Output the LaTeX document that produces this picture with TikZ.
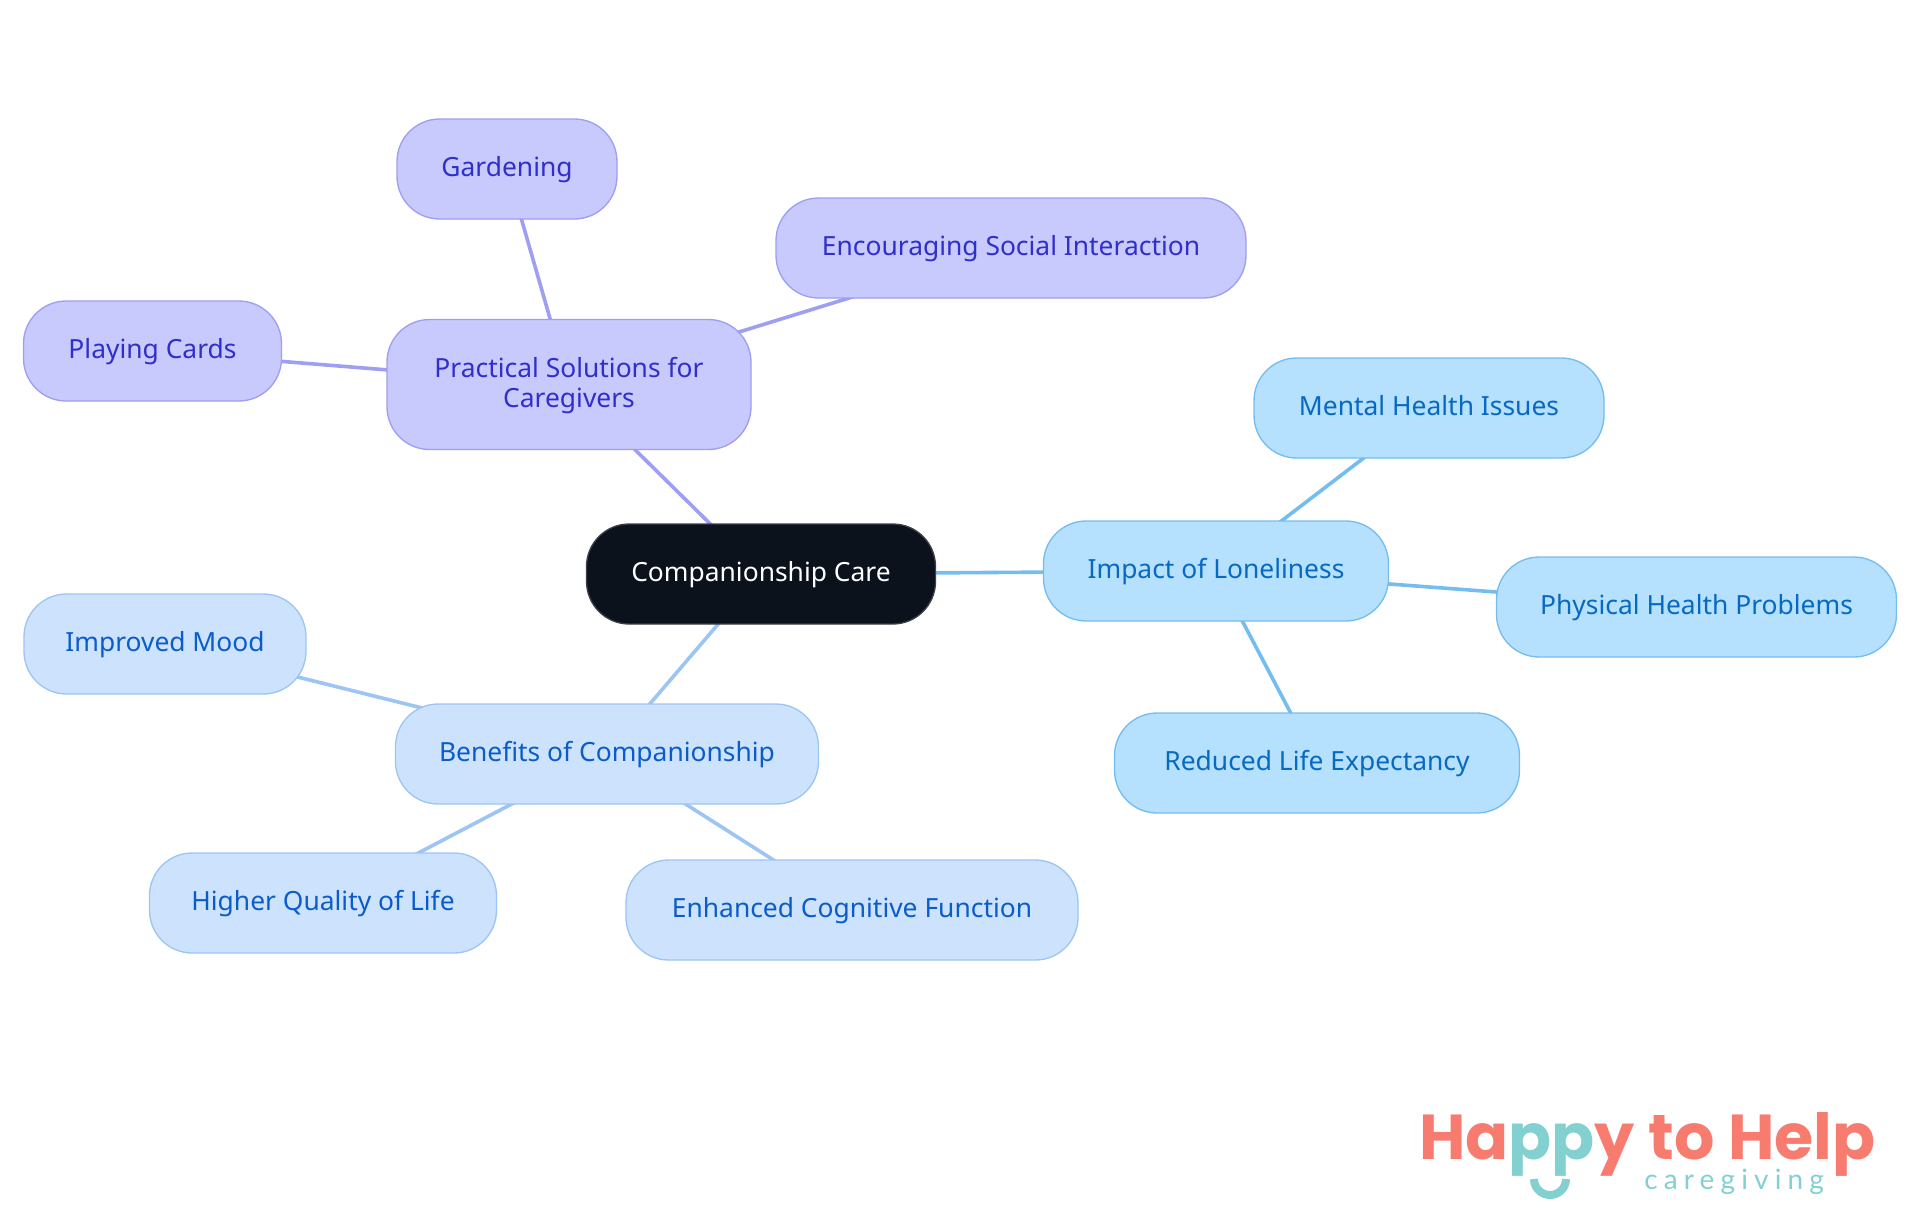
\documentclass[tikz,border=0pt]{standalone}
\usepackage{fontspec}
\setmainfont{Noto Sans}
\newfontfamily\logobold{Poppins}[UprightFont=*-Bold]
\newfontfamily\logothin{Lato}[LetterSpace=22]
\usetikzlibrary{backgrounds}
\definecolor{rootfill}{HTML}{0B121C}
\definecolor{rootline}{HTML}{3C4046}
\definecolor{purplefill}{HTML}{C8C9FD}
\definecolor{purpleline}{HTML}{9E9EF2}
\definecolor{purpletext}{HTML}{2F2FCB}
\definecolor{skyfill}{HTML}{B5E0FE}
\definecolor{skyline}{HTML}{75BDF0}
\definecolor{skytext}{HTML}{0769C1}
\definecolor{bluefill}{HTML}{CDE3FD}
\definecolor{blueline}{HTML}{9CC5F4}
\definecolor{bluetext}{HTML}{0B5CCB}
\definecolor{logocoral}{HTML}{F77B6E}
\definecolor{logoteal}{HTML}{83D0D0}
\tikzset{x=.75pt,y=-.75pt,
topic/.style={draw,line width=1pt,rounded corners=32pt,align=center,minimum height=75pt,inner sep=0pt,text height=14pt,text depth=3pt,font=\fontsize{19.8}{22.5}\selectfont},
rootnode/.style={topic,fill=rootfill,draw=rootline,text=white},
purplenode/.style={topic,fill=purplefill,draw=purpleline,text=purpletext},
skynode/.style={topic,fill=skyfill,draw=skyline,text=skytext},
bluenode/.style={topic,fill=bluefill,draw=blueline,text=bluetext},
link/.style={line width=2.7pt}}

\begin{document}
\begin{tikzpicture}
\useasboundingbox (0,0) rectangle (1920,1215);
\node[rootnode,minimum width=349*.75pt] (root) at (761,574){Companionship Care};
% purple branch
\node[purplenode,minimum width=364*.75pt,minimum height=130*.75pt,text height=37.5pt] (practical) at (569,384.5){Practical Solutions for\\Caregivers};
\foreach \nm/\x/\y/\w/\txt in {gardening/507/169/220/Gardening,social/1011/248/470/Encouraging Social Interaction,cards/152.5/351/258/Playing Cards}{
\node[purplenode,minimum width=\w*.75pt] (\nm) at (\x,\y){\txt};}
% sky branch
\foreach \nm/\x/\y/\w/\txt in {loneliness/1216/571/345/Impact of Loneliness,mental/1429/408/350/Mental Health Issues,physical/1696.5/607/400/Physical Health Problems,expectancy/1317/763/405/Reduced Life Expectancy}{
\node[skynode,minimum width=\w*.75pt] (\nm) at (\x,\y){\txt};}
% blue branch
\foreach \nm/\x/\y/\w/\txt in {benefits/607/754/423/Benefits of Companionship,mood/165/644/282/Improved Mood,quality/323/903/347/Higher Quality of Life,cognitive/852/910/452/Enhanced Cognitive Function}{
\node[bluenode,minimum width=\w*.75pt] (\nm) at (\x,\y){\txt};}
\begin{scope}[on background layer]
\foreach \a/\b in {root/practical,practical/gardening,practical/social,practical/cards}{\draw[link,purpleline] (\a.center)--(\b.center);}
\foreach \a/\b in {root/loneliness,loneliness/mental,loneliness/physical,loneliness/expectancy}{\draw[link,skyline] (\a.center)--(\b.center);}
\foreach \a/\b in {root/benefits,benefits/mood,benefits/quality,benefits/cognitive}{\draw[link,blueline] (\a.center)--(\b.center);}
\end{scope}
% logo
\node[anchor=base west,inner sep=0pt,text depth=0pt,text=logocoral,font=\logobold\fontsize{47.6}{47.6}\selectfont] (happy) at (1419,1159){Ha\textcolor{logoteal}{pp}y to Help};
\node[anchor=base west,inner sep=0pt,text=logoteal,font=\logothin\fontsize{21}{21}\selectfont] (caregiving) at (1644,1189){caregiving};
\draw[logoteal,line width=6pt] (1534,1179) arc[start angle=180,end angle=0,radius=16];
\end{tikzpicture}
\end{document}
